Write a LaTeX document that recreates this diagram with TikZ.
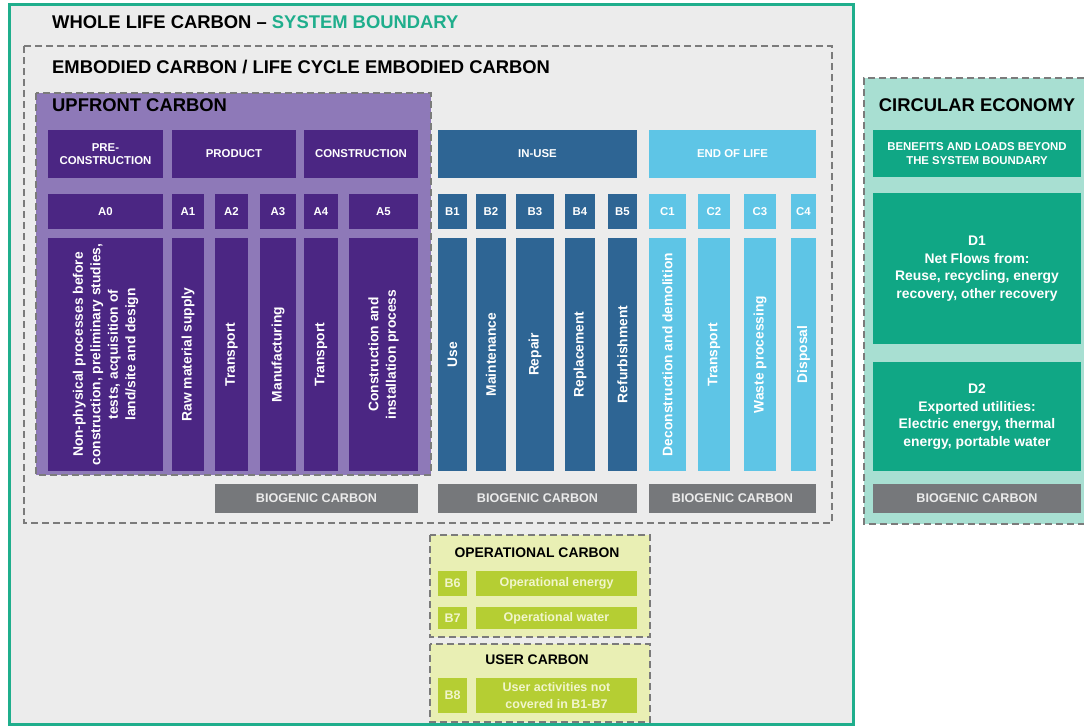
\documentclass[tikz,border=0pt]{standalone}
\usepackage{fontspec}
\setmainfont{Liberation Sans}
\usetikzlibrary{positioning}
\definecolor{frameteal}{HTML}{1FAE8C}
\definecolor{bggrey}{HTML}{ECECEC}
\definecolor{dashgrey}{HTML}{7B7B7B}
\definecolor{upfill}{HTML}{8E79B8}
\definecolor{updark}{HTML}{4B2683}
\definecolor{useblue}{HTML}{2E6594}
\definecolor{eolblue}{HTML}{5EC5E6}
\definecolor{circfill}{HTML}{A8DFD2}
\definecolor{circteal}{HTML}{10A785}
\definecolor{biogrey}{HTML}{76787B}
\definecolor{opfill}{HTML}{E9EFB4}
\definecolor{opgreen}{HTML}{B5CE33}
\definecolor{optext}{HTML}{F1F5CC}
\tikzset{
  bound/.style={draw=dashgrey, line width=2.2pt, dash pattern=on 7pt off 4pt},
  bigtitle/.style={anchor=west, inner sep=0pt, font=\bfseries\fontsize{18.4}{21}\selectfont},
  box/.style={rectangle, inner sep=0pt, align=center, text=white, font=\bfseries\fontsize{11.4}{13.5}\selectfont},
  tall/.style={box, rotate=90, minimum width=233pt, font=\bfseries\fontsize{13.8}{17.5}\selectfont},
  bio/.style={box, fill=biogrey, minimum height=29pt, text=white!92!black, font=\bfseries\fontsize{12.6}{14}\selectfont},
  opbox/.style={box, fill=opgreen, text=optext, font=\bfseries\fontsize{12.5}{17}\selectfont},
  optitle/.style={inner sep=0pt, font=\bfseries\fontsize{13.9}{16}\selectfont}
}
\begin{document}
\begin{tikzpicture}[x=1pt,y=-1pt]
	\useasboundingbox (0,0) rectangle (1084,726);
	% whole life carbon frame
	\draw [fill=bggrey, draw=frameteal, line width=3pt] (9.5,4.5) rectangle (853.5,724.5);
	\node [bigtitle] (wlc) at (52,22) {WHOLE LIFE CARBON -- \textcolor{frameteal}{SYSTEM BOUNDARY}};
	% embodied carbon
	\draw [bound] (24,46) rectangle (832,523);
	\node [bigtitle] (emb) at (52,67) {EMBODIED CARBON / LIFE CYCLE EMBODIED CARBON};
	% upfront carbon
	\draw [bound, fill=upfill] (36,93) rectangle (431,475);
	\node [bigtitle] (upf) at (52,105) {UPFRONT CARBON};
	% stage headers
	\node [box, fill=updark, minimum width=115pt, minimum height=48pt] (precon) at (105.5,154) {PRE-\\CONSTRUCTION};
	\node [box, fill=updark, minimum width=124pt, minimum height=48pt] (product) at (234,154) {PRODUCT};
	\node [box, fill=updark, minimum width=114pt, minimum height=48pt] (constr) at (361,154) {CONSTRUCTION};
	\node [box, fill=useblue, minimum width=199pt, minimum height=48pt] (inuse) at (537.5,154) {IN-USE};
	\node [box, fill=eolblue, minimum width=167pt, minimum height=48pt] (eol) at (732.5,154) {END OF LIFE};
	% module codes
	\node [box, fill=updark, minimum width=115pt, minimum height=35pt] (A0) at (105.5,211.5) {A0};
	\node [box, fill=updark, minimum width=32pt, minimum height=35pt] (A1) at (188,211.5) {A1};
	\node [box, fill=updark, minimum width=33pt, minimum height=35pt] (A2) at (231.5,211.5) {A2};
	\node [box, fill=updark, minimum width=36pt, minimum height=35pt] (A3) at (278,211.5) {A3};
	\node [box, fill=updark, minimum width=34pt, minimum height=35pt] (A4) at (321,211.5) {A4};
	\node [box, fill=updark, minimum width=69pt, minimum height=35pt] (A5) at (383.5,211.5) {A5};
	\node [box, fill=useblue, minimum width=29pt, minimum height=35pt] (B1) at (452.5,211.5) {B1};
	\node [box, fill=useblue, minimum width=30pt, minimum height=35pt] (B2) at (491,211.5) {B2};
	\node [box, fill=useblue, minimum width=38pt, minimum height=35pt] (B3) at (535,211.5) {B3};
	\node [box, fill=useblue, minimum width=30pt, minimum height=35pt] (B4) at (580,211.5) {B4};
	\node [box, fill=useblue, minimum width=29pt, minimum height=35pt] (B5) at (622.5,211.5) {B5};
	\node [box, fill=eolblue, minimum width=37pt, minimum height=35pt] (C1) at (667.5,211.5) {C1};
	\node [box, fill=eolblue, minimum width=32pt, minimum height=35pt] (C2) at (714,211.5) {C2};
	\node [box, fill=eolblue, minimum width=32pt, minimum height=35pt] (C3) at (760,211.5) {C3};
	\node [box, fill=eolblue, minimum width=25pt, minimum height=35pt] (C4) at (803.5,211.5) {C4};
	% module descriptions
	\node [tall, fill=updark, minimum height=115pt] (A0d) at (105.5,354.5) {Non-physical processes before\\construction, preliminary studies,\\tests, acquisition of\\land/site and design};
	\node [tall, fill=updark, minimum height=32pt] (A1d) at (188,354.5) {Raw material supply};
	\node [tall, fill=updark, minimum height=33pt] (A2d) at (231.5,354.5) {Transport};
	\node [tall, fill=updark, minimum height=36pt] (A3d) at (278,354.5) {Manufacturing};
	\node [tall, fill=updark, minimum height=34pt] (A4d) at (321,354.5) {Transport};
	\node [tall, fill=updark, minimum height=69pt] (A5d) at (383.5,354.5) {Construction and\\installation process};
	\node [tall, fill=useblue, minimum height=29pt] (B1d) at (452.5,354.5) {Use};
	\node [tall, fill=useblue, minimum height=30pt] (B2d) at (491,354.5) {Maintenance};
	\node [tall, fill=useblue, minimum height=38pt] (B3d) at (535,354.5) {Repair};
	\node [tall, fill=useblue, minimum height=30pt] (B4d) at (580,354.5) {Replacement};
	\node [tall, fill=useblue, minimum height=29pt] (B5d) at (622.5,354.5) {Refurbishment};
	\node [tall, fill=eolblue, minimum height=37pt] (C1d) at (667.5,354.5) {Deconstruction and demolition};
	\node [tall, fill=eolblue, minimum height=32pt] (C2d) at (714,354.5) {Transport};
	\node [tall, fill=eolblue, minimum height=32pt] (C3d) at (760,354.5) {Waste processing};
	\node [tall, fill=eolblue, minimum height=25pt] (C4d) at (803.5,354.5) {Disposal};
	% biogenic carbon
	\node [bio, minimum width=203pt] (bioA) at (316.5,498.5) {BIOGENIC CARBON};
	\node [bio, minimum width=199pt] (bioB) at (537.5,498.5) {BIOGENIC CARBON};
	\node [bio, minimum width=167pt] (bioC) at (732.5,498.5) {BIOGENIC CARBON};
	% circular economy, open on the right
	\fill [circfill] (864,78) rectangle (1084,524);
	\draw [bound] (1084,78) -- (864,78) -- (864,524) -- (1084,524);
	\node [bigtitle, anchor=center] (circ) at (977,105) {CIRCULAR ECONOMY};
	\node [box, fill=circteal, minimum width=208pt, minimum height=47pt] (beyond) at (977,153.5) {BENEFITS AND LOADS BEYOND\\THE SYSTEM BOUNDARY};
	\node [box, fill=circteal, minimum width=208pt, minimum height=151pt, font=\bfseries\fontsize{13.9}{17.5}\selectfont] (D1) at (977,268.5) {D1\\Net Flows from:\\Reuse, recycling, energy\\recovery, other recovery};
	\node [box, fill=circteal, minimum width=208pt, minimum height=109pt, font=\bfseries\fontsize{13.9}{17.5}\selectfont] (D2) at (977,416.5) {D2\\Exported utilities:\\Electric energy, thermal\\energy, portable water};
	\node [bio, minimum width=208pt] (bioD) at (977,498.5) {BIOGENIC CARBON};
	% operational carbon
	\draw [bound, fill=opfill] (430,535) rectangle (650,637);
	\node [optitle] (opc) at (537,553) {OPERATIONAL CARBON};
	\node [opbox, minimum width=29pt, minimum height=25pt] (B6) at (452.5,583.5) {B6};
	\node [opbox, minimum width=161pt, minimum height=25pt] (B6d) at (556.5,583.5) {Operational energy};
	\node [opbox, minimum width=29pt, minimum height=22pt] (B7) at (452.5,618) {B7};
	\node [opbox, minimum width=161pt, minimum height=22pt] (B7d) at (556.5,618) {Operational water};
	% user carbon
	\draw [bound, fill=opfill] (430,644) rectangle (650,722);
	\node [optitle] (usc) at (537,660) {USER CARBON};
	\node [opbox, minimum width=29pt, minimum height=35pt] (B8) at (452.5,695.5) {B8};
	\node [opbox, minimum width=161pt, minimum height=35pt] (B8d) at (556.5,695.5) {User activities not\\covered in B1-B7};
\end{tikzpicture}
\end{document}
